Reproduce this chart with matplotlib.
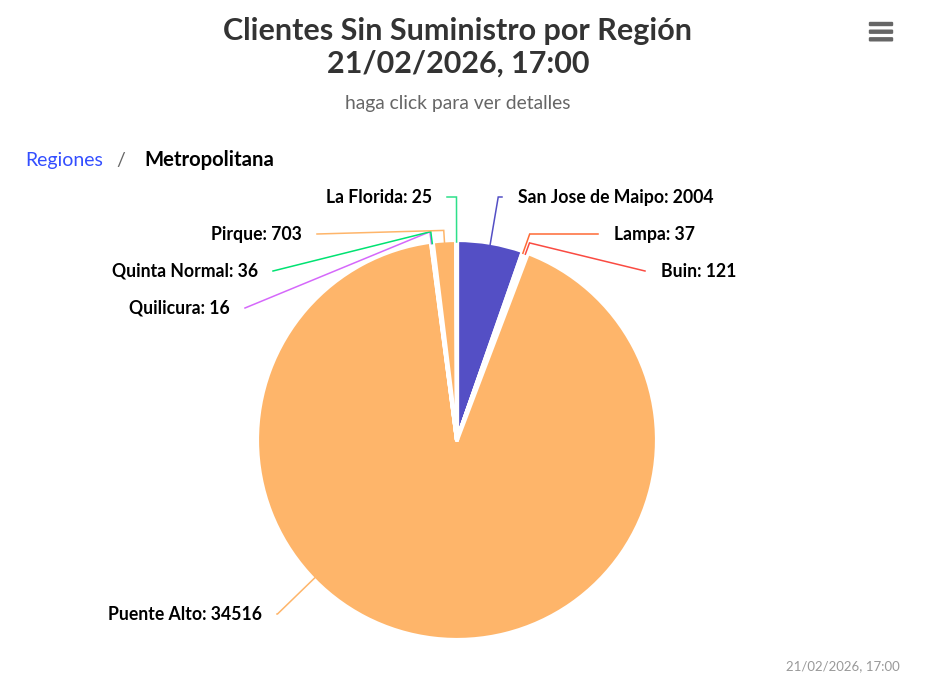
import matplotlib
matplotlib.use('Agg')
import matplotlib.pyplot as plt
import numpy as np
from matplotlib.patches import FancyBboxPatch

plt.rcParams['font.family'] = ['Lato', 'DejaVu Sans']

# datos
comunas = ['San Jose de Maipo', 'Lampa', 'Buin', 'Puente Alto',
           'Quilicura', 'Quinta Normal', 'Pirque', 'La Florida']
clientes = [2004, 37, 121, 34516, 16, 36, 703, 25]
colores = ['#544fc5', '#fe6a35', '#fa4b42', '#feb56a',
           '#d568fb', '#00e272', '#feb56a', '#2ee08a']

titulo = ['Clientes Sin Suministro por Región', '21/02/2026, 17:00']
subtitulo = 'haga click para ver detalles'
migas = ['Regiones', '/', 'Metropolitana']
creditos = '21/02/2026, 17:00'

# layout de las etiquetas (pixeles, y hacia abajo): inicio del conector
label_x = [502, 598, 645, 277, 245, 273, 317, 447]
label_y = [197, 234, 271, 614, 308, 271, 234, 197]

W, H = 948, 691
cx, cy, r = 457, 440, 200      # centro y radio del pie en pixeles
dist = 250                     # distancia de las etiquetas al centro
plot_bottom = 650


def py(y):
    # pixel (y hacia abajo) -> coordenada del eje
    return H - y


fig = plt.figure(figsize=(W / 100, H / 100), dpi=100)
ax = fig.add_axes([0, 0, 1, 1])

wedges, _ = ax.pie(clientes, colors=colores, startangle=90, counterclock=False,
                   center=(cx, py(cy)), radius=r,
                   wedgeprops=dict(edgecolor='white', linewidth=3, joinstyle='round'))
ax.set_xlim(0, W)
ax.set_ylim(0, H)
ax.set_aspect('equal')
ax.axis('off')

# etiquetas con conectores estilo highcharts
for w, nombre, val, col, lx, ly in zip(wedges, comunas, clientes, colores, label_x, label_y):
    mid = np.radians(90 - (w.theta1 + w.theta2) / 2)   # desde arriba, horario
    nat_y = cy - np.cos(mid) * dist
    if nat_y > plot_bottom:
        # etiqueta empujada hacia arriba: el conector sigue a la etiqueta
        phi = np.arcsin(np.clip((ly - cy) / dist, -1, 1))
        mid = np.pi * 1.5 - phi if lx < cx else np.pi / 2 + phi
    dx, dy = np.sin(mid), -np.cos(mid)
    touch = (cx + (r - 2) * dx, cy + (r - 2) * dy)
    brk = (cx + (r + 10) * dx, cy + (r + 10) * dy)
    crook = cx + (cy - ly) * np.tan(mid)
    left = lx < cx
    pts = [(lx, ly)]
    if (left and lx <= crook <= brk[0]) or (not left and brk[0] <= crook <= lx):
        pts.append((crook, ly))
    pts += [brk, touch]
    xs = [p[0] for p in pts]
    ys = [py(p[1]) for p in pts]
    ax.plot(xs, ys, color=col, lw=1.1, solid_joinstyle='miter')
    tx = lx - 15 if left else lx + 16
    ax.text(tx, py(ly), f'{nombre}: {val}', ha='right' if left else 'left',
            va='center', fontsize=12.7, fontweight='bold', color='black')

# titulos
ax.text(458, py(31), titulo[0], ha='center', va='center', fontsize=22,
        fontweight='bold', color='#333333')
ax.text(458, py(64), titulo[1], ha='center', va='center', fontsize=22,
        fontweight='bold', color='#333333')
ax.text(458, py(103), subtitulo, ha='center', va='center', fontsize=13.9,
        color='#666666')

# breadcrumbs
ax.text(25, py(160), migas[0], ha='left', va='center', fontsize=14, color='#334eff')
ax.text(121, py(160), migas[1], ha='center', va='center', fontsize=14, color='#666666')
ax.text(144, py(160), migas[2], ha='left', va='center', fontsize=14.6,
        fontweight='bold', color='black')

# creditos
ax.text(900, py(666), creditos, ha='right', va='center', fontsize=9.5, color='#999999')

# icono de menu
for yb in [24, 31.7, 39.3]:
    ax.add_patch(FancyBboxPatch((870, py(yb) - 1), 22, 2,
                                boxstyle='round,pad=1.2', fc='#666666', ec='none'))

fig.savefig('out.png', dpi=100)
